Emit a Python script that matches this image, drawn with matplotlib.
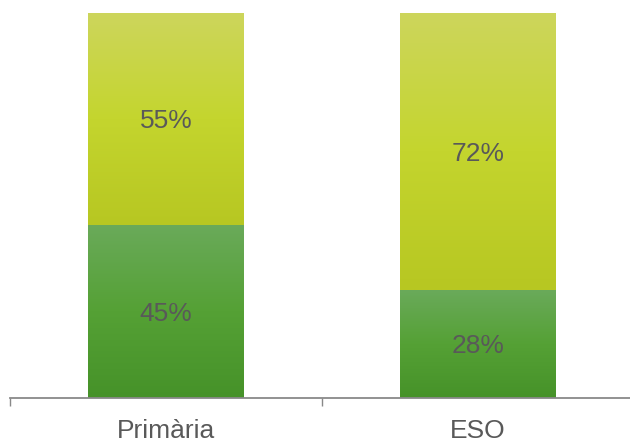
import numpy as np
import matplotlib.pyplot as plt
from matplotlib.colors import LinearSegmentedColormap

plt.rcParams['font.family'] = ['Liberation Sans', 'DejaVu Sans']

# data
categories = ["Primària", "ESO"]
lower_vals = [45, 28]
upper_vals = [55, 72]

TEXT = "#595959"
green_cmap = LinearSegmentedColormap.from_list("g", ["#469229", "#55A135", "#6AAA5A"])
yellow_cmap = LinearSegmentedColormap.from_list("y", ["#B7C722", "#C4D52E", "#CDD65C"])

fig = plt.figure(figsize=(6.3, 4.42), dpi=100)
ax = fig.add_axes([10 / 630, 44 / 442, 624 / 630, 385 / 442])

x = np.arange(len(categories))
width = 0.5


def gradient_fill(bars, cmap):
    grad = np.linspace(0, 1, 256).reshape(-1, 1)
    for b in bars:
        x0, y0 = b.get_x(), b.get_y()
        w, h = b.get_width(), b.get_height()
        im = ax.imshow(grad, cmap=cmap, origin="lower", aspect="auto",
                       extent=[x0, x0 + w, y0, y0 + h], zorder=2)
        im.set_clip_path(b)
        b.set_facecolor("none")


bars_low = ax.bar(x, lower_vals, width, color="#55A135", zorder=1)
bars_up = ax.bar(x, upper_vals, width, bottom=lower_vals, color="#C4D52E", zorder=1)
gradient_fill(bars_low, green_cmap)
gradient_fill(bars_up, yellow_cmap)

for i in range(len(categories)):
    ax.text(x[i], lower_vals[i] / 2 - 0.6, f"{lower_vals[i]}%", ha="center", va="center",
            fontsize=19, color=TEXT, zorder=3)
    ax.text(x[i], lower_vals[i] + upper_vals[i] / 2 - 0.6, f"{upper_vals[i]}%", ha="center",
            va="center", fontsize=19, color=TEXT, zorder=3)

ax.set_xlim(-0.5, len(categories) - 0.5)
ax.set_ylim(0, 100)

for s in ["top", "right", "left"]:
    ax.spines[s].set_visible(False)
ax.spines["bottom"].set_color("#898989")
ax.spines["bottom"].set_linewidth(1.3)

ax.set_yticks([])
ax.set_xticks([-0.5, 0.5, 1.5], minor=False)
ax.set_xticklabels([])
ax.tick_params(axis="x", length=6, color="#898989", width=1)
ax.set_xticks(x, minor=True)
ax.set_xticklabels(categories, minor=True)
ax.tick_params(axis="x", which="minor", length=0, labelsize=19, labelcolor=TEXT, pad=15)

fig.savefig("out.png", dpi=100)
